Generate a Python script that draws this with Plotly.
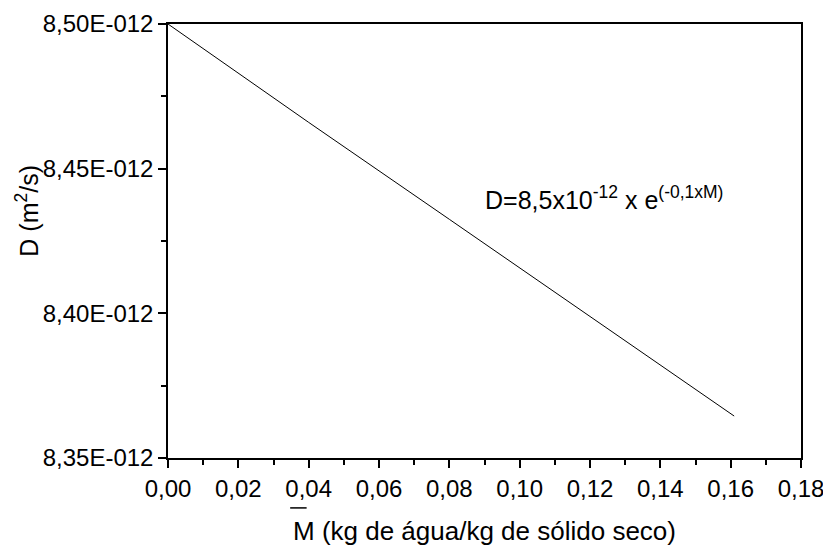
import plotly.graph_objects as go

# Data
M_vals = [0.0, 0.04, 0.08, 0.12, 0.161]
D_vals = [8.500e-12, 8.466e-12, 8.4325e-12, 8.399e-12, 8.3645e-12]

x_ticks = [0.00, 0.02, 0.04, 0.06, 0.08, 0.10, 0.12, 0.14, 0.16, 0.18]
y_ticks = [8.35e-12, 8.40e-12, 8.45e-12, 8.50e-12]
y_ticklabels = ["8,35E-012", "8,40E-012", "8,45E-012", "8,50E-012"]

FONT = "Liberation Sans, Arial, sans-serif"

fig = go.Figure()
fig.add_trace(go.Scatter(x=M_vals, y=D_vals, mode="lines",
                         line=dict(color="black", width=1), showlegend=False))

fig.update_layout(
    template="none",
    width=823, height=543,
    margin=dict(l=160, r=30, t=16, b=93),
    paper_bgcolor="white", plot_bgcolor="white",
    separators=",.",
    font=dict(family=FONT, size=24, color="black"),
    xaxis=dict(
        range=[0, 0.18], tickvals=x_ticks, tickformat=".2f", automargin=False,
        showline=True, linecolor="black", linewidth=1.5, mirror=True,
        ticks="outside", ticklen=8, tickwidth=1.5, tickcolor="black",
        minor=dict(ticks="outside", ticklen=5, tickwidth=1.5, tickcolor="black", dtick=0.01),
        showgrid=False, zeroline=False,
        tickfont=dict(size=24),
    ),
    yaxis=dict(
        range=[8.35e-12, 8.50e-12], tickvals=y_ticks, ticktext=y_ticklabels, automargin=False,
        showline=True, linecolor="black", linewidth=1.5, mirror=True,
        ticks="outside", ticklen=8, tickwidth=1.5, tickcolor="black",
        minor=dict(ticks="outside", ticklen=5, tickwidth=1.5, tickcolor="black", dtick=0.025e-12),
        showgrid=False, zeroline=False,
        tickfont=dict(size=24),
    ),
)

# X axis title
fig.add_annotation(text="M (kg de água/kg de sólido seco)", xref="paper", yref="paper",
                   x=0.5, y=-0.168, showarrow=False, font=dict(size=26),
                   xanchor="center", yanchor="middle")

# Y axis title (placed off-centre as in the original)
fig.add_annotation(text="D (m<sup>2</sup>/s)", xref="paper", yref="paper",
                   x=-0.222, y=0.571, textangle=-90, showarrow=False,
                   font=dict(size=25), xanchor="center", yanchor="middle")

# Equation annotation
fig.add_annotation(text="D=8,5x10<sup>-12</sup> x e<sup>(-0,1xM)</sup>",
                   xref="paper", yref="paper", x=0.498, y=0.60,
                   xanchor="left", yanchor="middle", showarrow=False,
                   font=dict(size=25))

# Overline on M in the x axis title
fig.add_shape(type="line", xref="paper", yref="paper",
              x0=0.193, x1=0.219, y0=-0.115, y1=-0.115,
              line=dict(color="black", width=1.5))

fig.write_html("out.html")
